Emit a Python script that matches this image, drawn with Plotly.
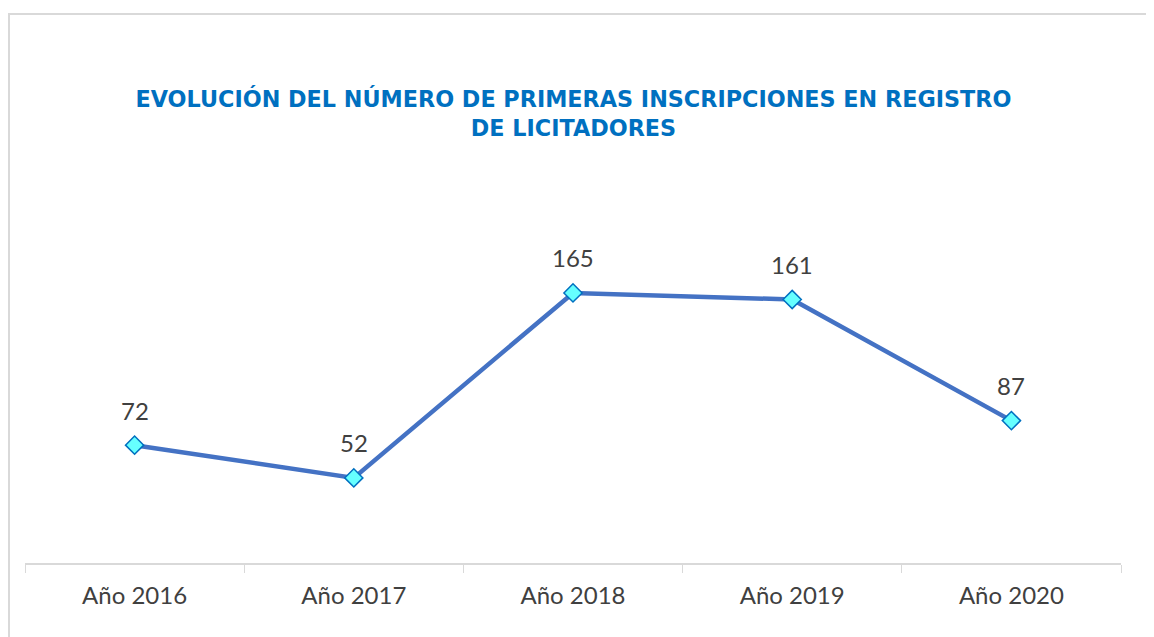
import plotly.graph_objects as go

categories = ["Año 2016", "Año 2017", "Año 2018", "Año 2019", "Año 2020"]
values = [72, 52, 165, 161, 87]
title_text = "EVOLUCIÓN DEL NÚMERO DE PRIMERAS INSCRIPCIONES EN REGISTRO<br>DE LICITADORES"

label_font = dict(family="Lato, sans-serif", size=24, color="#404040")

fig = go.Figure()
fig.add_trace(go.Scatter(
    x=categories, y=values, mode="lines+markers",
    line=dict(color="#4472C4", width=4.5),
    marker=dict(symbol="diamond", size=14, color="#66FFFF",
                line=dict(color="#0070C0", width=1.5)),
    cliponaxis=False, showlegend=False,
))

annotations = [dict(x=c, y=v, text=str(v), showarrow=False, xanchor="center",
                    yanchor="middle", yshift=35, font=label_font)
               for c, v in zip(categories, values)]

fig.update_layout(
    width=1154, height=637,
    margin=dict(l=17, r=41, t=172, b=82),
    paper_bgcolor="white", plot_bgcolor="white",
    title=dict(text=title_text, x=0.49, xanchor="center", y=0.845, yanchor="middle",
               font=dict(family="DejaVu Sans, sans-serif", size=22.3, color="#0070C0", weight="bold")),
    xaxis=dict(showgrid=False, showline=True, linecolor="#D9D9D9", linewidth=1.5,
               ticks="outside", ticklen=8, tickcolor="#D9D9D9", tickson="boundaries",
               tickfont=label_font, ticklabelstandoff=10,
               range=[-0.5, 4.5], fixedrange=True),
    yaxis=dict(visible=False, range=[0, 234], fixedrange=True),
    annotations=annotations,
    shapes=[dict(type="rect", xref="paper", yref="paper", x0=-0.0146, x1=1.1, y0=-0.3, y1=1.4334,
                 line=dict(color="#D9D9D9", width=2), layer="below")],
)

fig.write_html("out.html")
